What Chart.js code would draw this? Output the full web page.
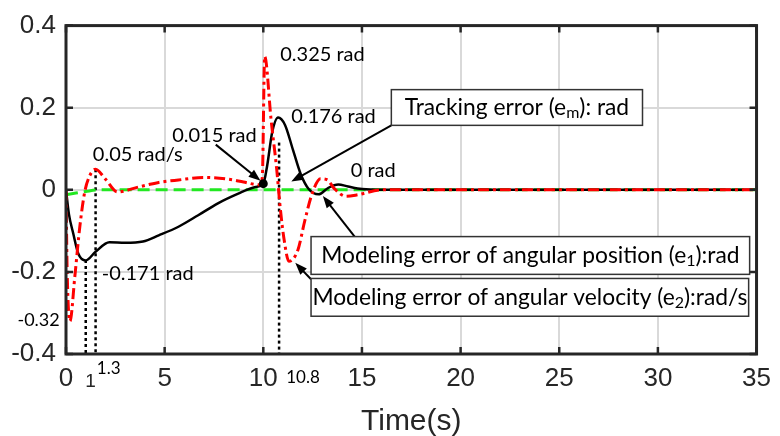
<!DOCTYPE html>
<html>
<head>
<meta charset="utf-8">
<script src="https://cdn.jsdelivr.net/npm/chart.js@4.4.1/dist/chart.umd.min.js"></script>
<style>
  html, body { margin: 0; padding: 0; background: #fff; }
</style>
</head>
<body>
<canvas id="errorChart" width="780" height="436"></canvas>
<script>
// Axis ticks
const xTicks = [0, 5, 10, 15, 20, 25, 30, 35];
const yTicks = [-0.4, -0.2, 0, 0.2, 0.4];

// Tracking error (e_m), black solid
const trackTime = [0, 0.15, 0.37, 0.62, 1.0, 1.5, 2.2, 3.0, 3.9, 4.7, 5.7, 6.7, 7.7, 8.7, 9.6, 10.0, 10.2, 10.45, 10.75, 11.1, 11.5, 11.9, 12.3, 12.8, 13.3, 13.8, 14.3, 15.0, 16.0, 20, 25, 30, 35];
const trackErr = [0, -0.06, -0.107, -0.155, -0.172, -0.151, -0.128, -0.129, -0.126, -0.111, -0.09, -0.062, -0.033, -0.01, 0.007, 0.015, 0.06, 0.14, 0.176, 0.158, 0.098, 0.038, 0.002, -0.011, 0.005, 0.013, 0.008, 0.002, 0, 0, 0, 0, 0];

// Modeling error of angular velocity (e_2), red dash-dot
const velTime = [0, 0.06, 0.2, 0.45, 0.7, 0.95, 1.2, 1.5, 2.0, 2.6, 3.7, 4.7, 5.7, 7.0, 8.2, 9.0, 9.8, 9.95, 10.07, 10.4, 10.68, 10.85, 11.05, 11.3, 11.75, 12.1, 12.45, 12.9, 13.25, 13.6, 14.2, 14.8, 16, 20, 25, 30, 35];
const velErr = [0, -0.2, -0.32, -0.21, -0.09, -0.005, 0.034, 0.05, 0.026, -0.005, 0.007, 0.018, 0.024, 0.03, 0.026, 0.019, 0.012, 0.03, 0.325, 0.168, 0.05, -0.04, -0.12, -0.174, -0.147, -0.076, -0.013, 0.027, 0.024, 0.003, -0.016, -0.012, 0, 0, 0, 0, 0];

// Modeling error of angular position (e_1), green dashed
const posTime = [0, 0.5, 1.0, 1.7, 35];
const posErr = [-0.012, -0.008, -0.004, 0, 0];

// Dotted guide lines (time, from value, to value)
const guideTime = [1, 1.5, 10.8];
const guideTop = [-0.171, 0.05, 0.115];
const guideBottom = [-0.4, -0.4, -0.4];

// Value labels placed in data coordinates
const noteText = ["0.325 rad", "0.176 rad", "0.015 rad", "0.05 rad/s", "0 rad", "-0.171 rad", "-0.32"];
const noteX = [10.86, 11.42, 5.38, 1.36, 14.43, 1.81, -2.46];
const noteY = [0.329, 0.179, 0.132, 0.086, 0.046, -0.205, -0.317];

const pts = (ts, vs) => ts.map((t, i) => ({ x: t, y: vs[i] }));

const guideSets = guideTime.map((t, i) => ({
  data: [{ x: t, y: guideTop[i] }, { x: t, y: guideBottom[i] }],
  borderColor: "#000",
  borderWidth: 2.5,
  borderDash: [3, 3],
  pointRadius: 0,
  order: 3,
}));

function arrow(ctx, x1, y1, x2, y2) {
  const ang = Math.atan2(y2 - y1, x2 - x1);
  ctx.beginPath();
  ctx.moveTo(x1, y1);
  ctx.lineTo(x2 - 8 * Math.cos(ang), y2 - 8 * Math.sin(ang));
  ctx.stroke();
  ctx.beginPath();
  ctx.moveTo(x2, y2);
  ctx.lineTo(x2 - 12 * Math.cos(ang) + 4.5 * Math.sin(ang), y2 - 12 * Math.sin(ang) - 4.5 * Math.cos(ang));
  ctx.lineTo(x2 - 12 * Math.cos(ang) - 4.5 * Math.sin(ang), y2 - 12 * Math.sin(ang) + 4.5 * Math.cos(ang));
  ctx.closePath();
  ctx.fill();
}

// draws text with one subscript part, centred in a box
function boxText(ctx, x, y, parts, size) {
  const big = size + "px Lato";
  const small = Math.round(size * 0.68) + "px Lato";
  let w = 0;
  parts.forEach((p) => { ctx.font = p.sub ? small : big; w += ctx.measureText(p.t).width; });
  let cx = x - w / 2;
  ctx.textAlign = "left";
  ctx.textBaseline = "middle";
  parts.forEach((p) => {
    ctx.font = p.sub ? small : big;
    ctx.fillText(p.t, cx, p.sub ? y + 5 : y);
    cx += ctx.measureText(p.t).width;
  });
}

const overlay = {
  id: "overlay",
  afterDraw(chart) {
    const { ctx, chartArea: a, scales: { x, y } } = chart;
    const X = (v) => x.getPixelForValue(v);
    const Y = (v) => y.getPixelForValue(v);
    ctx.save();

    // frame and inward ticks
    ctx.strokeStyle = "#262626";
    ctx.lineWidth = 3;
    ctx.strokeRect(a.left, a.top, a.right - a.left, a.bottom - a.top);
    ctx.lineWidth = 2.5;
    ctx.beginPath();
    xTicks.forEach((t) => {
      ctx.moveTo(X(t), a.bottom); ctx.lineTo(X(t), a.bottom - 7);
      ctx.moveTo(X(t), a.top); ctx.lineTo(X(t), a.top + 7);
    });
    yTicks.forEach((v) => {
      ctx.moveTo(a.left, Y(v)); ctx.lineTo(a.left + 7, Y(v));
      ctx.moveTo(a.right, Y(v)); ctx.lineTo(a.right - 7, Y(v));
    });
    ctx.stroke();

    // value notes
    ctx.fillStyle = "#000";
    ctx.textAlign = "left";
    ctx.textBaseline = "middle";
    noteText.forEach((s, i) => {
      ctx.font = (i === 6 ? 18 : 20) + "px Lato";
      ctx.fillText(s, X(noteX[i]), Y(noteY[i]));
    });

    // extra time labels
    ctx.font = "19px 'Liberation Sans'";
    ctx.fillStyle = "#262626";
    ctx.fillText("1", X(0.97), Y(-0.467));
    ctx.font = "17px Lato";
    ctx.fillStyle = "#000";
    ctx.fillText("1.3", X(1.56), Y(-0.435));
    ctx.fillText("10.8", X(11.16), Y(-0.457));

    // point at 10 s
    ctx.beginPath();
    ctx.arc(X(10), Y(0.015), 4.5, 0, Math.PI * 2);
    ctx.fill();

    // arrows
    ctx.strokeStyle = "#000";
    ctx.lineWidth = 2;
    arrow(ctx, X(16.49), Y(0.157), X(11.42), Y(0.02));
    arrow(ctx, X(7.59), Y(0.110), X(9.86), Y(0.022));
    arrow(ctx, X(14.63), Y(-0.114), X(13.02), Y(-0.015));
    arrow(ctx, X(12.42), Y(-0.218), X(11.62), Y(-0.178));

    // legend boxes
    const boxes = [
      { t0: 16.49, t1: 29.22, v0: 0.244, v1: 0.157, parts: [{ t: "Tracking error (e" }, { t: "m", sub: true }, { t: "): rad" }] },
      { t0: 12.42, t1: 34.65, v0: -0.114, v1: -0.206, parts: [{ t: "Modeling error of angular position (e" }, { t: "1", sub: true }, { t: "):rad" }] },
      { t0: 12.42, t1: 34.6, v0: -0.216, v1: -0.308, parts: [{ t: "Modeling error of angular velocity (e" }, { t: "2", sub: true }, { t: "):rad/s" }] },
    ];
    boxes.forEach((b) => {
      const l = X(b.t0), r = X(b.t1), t = Y(b.v0), bt = Y(b.v1);
      ctx.fillStyle = "#fff";
      ctx.fillRect(l, t, r - l, bt - t);
      ctx.strokeStyle = "#333";
      ctx.lineWidth = 1.5;
      ctx.strokeRect(l, t, r - l, bt - t);
      ctx.fillStyle = "#000";
      boxText(ctx, (l + r) / 2, (t + bt) / 2, b.parts, 22.8);
    });
    ctx.restore();
  },
};

new Chart(document.getElementById("errorChart"), {
  type: "line",
  data: {
    datasets: [
      {
        label: "e2",
        data: pts(velTime, velErr),
        borderColor: "#ff0000",
        borderWidth: 3,
        borderDash: [11, 4, 3, 4],
        pointRadius: 0,
        cubicInterpolationMode: "monotone",
        order: 0,
      },
      {
        label: "em",
        data: pts(trackTime, trackErr),
        borderColor: "#000",
        borderWidth: 2.5,
        pointRadius: 0,
        cubicInterpolationMode: "monotone",
        order: 1,
      },
      {
        label: "e1",
        data: pts(posTime, posErr),
        borderColor: "#22e822",
        borderWidth: 3,
        borderDash: [12, 6],
        pointRadius: 0,
        cubicInterpolationMode: "monotone",
        order: 2,
      },
      ...guideSets,
    ],
  },
  options: {
    responsive: false,
    animation: false,
    devicePixelRatio: 1,
    layout: { padding: { top: 15, right: 18, left: 0, bottom: 0 } },
    plugins: { legend: { display: false }, tooltip: { enabled: false } },
    scales: {
      x: {
        type: "linear",
        min: 0,
        max: 35,
        afterFit: (s) => { s.height = 82; },
        afterBuildTicks: (s) => { s.ticks = xTicks.map((v) => ({ value: v })); },
        grid: { color: "#d9d9d9", lineWidth: 2, drawTicks: false },
        border: { display: false },
        ticks: {
          color: "#262626",
          padding: 9,
          font: { family: "'Liberation Sans', Arial", size: 26 },
        },
        title: {
          display: true,
          text: "Time(s)",
          color: "#262626",
          padding: { top: 0, bottom: -4 },
          font: { family: "'Liberation Sans', Arial", size: 30 },
        },
      },
      y: {
        min: -0.4,
        max: 0.4,
        afterFit: (s) => { s.width = 66; },
        afterBuildTicks: (s) => { s.ticks = yTicks.map((v) => ({ value: v })); },
        grid: { color: "#d9d9d9", lineWidth: 2, drawTicks: false },
        border: { display: false },
        ticks: {
          color: "#262626",
          padding: 10,
          font: { family: "'Liberation Sans', Arial", size: 26 },
          callback: (v) => (Math.abs(v) < 1e-9 ? "0" : String(Math.round(v * 10) / 10)),
        },
      },
    },
  },
  plugins: [overlay],
});
</script>
</body>
</html>
